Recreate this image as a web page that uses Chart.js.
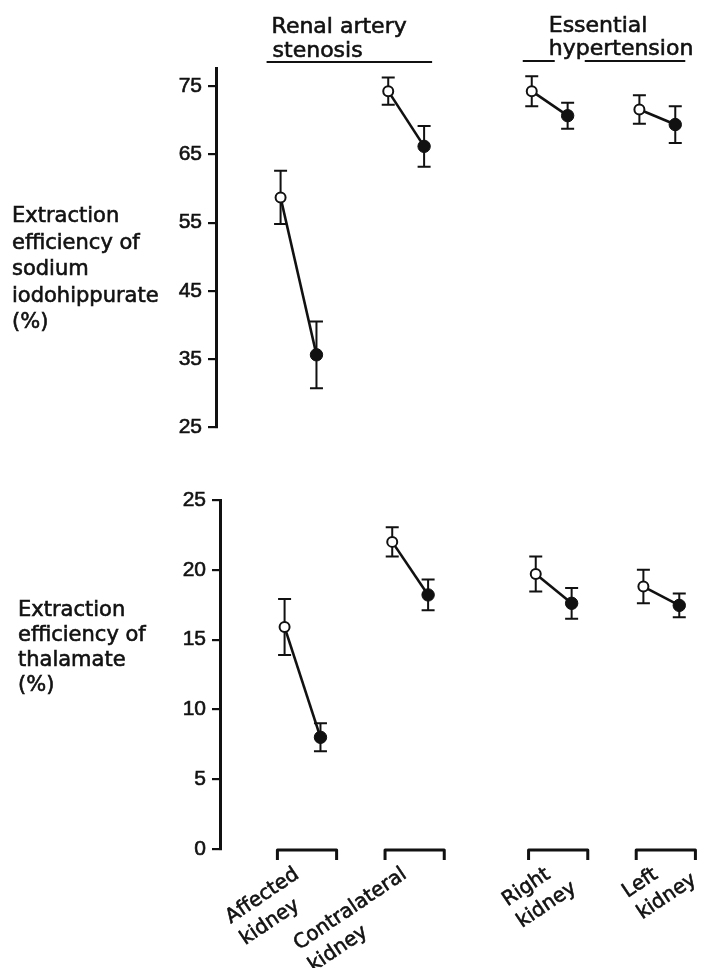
<!DOCTYPE html>
<html>
<head>
<meta charset="utf-8">
<script src="https://cdn.jsdelivr.net/npm/chart.js@4.4.1/dist/chart.umd.min.js"></script>
<style>
  body { margin: 0; background: #fff; width: 704px; height: 968px; overflow: hidden; position: relative; }
  canvas { position: absolute; }
  #chart1 { left: 0; top: 0; }
  #chart2 { left: 4px; top: 470px; }
</style>
</head>
<body>
<canvas id="chart1" width="704" height="470"></canvas>
<canvas id="chart2" width="704" height="498"></canvas>
<script>
//groups and where each pair sits on the x axis
const groups = ['Affected kidney', 'Contralateral kidney', 'Right kidney', 'Left kidney']
const xLabels = [['Affected', 'kidney'], ['Contralateral', 'kidney'], ['Right', 'kidney'], ['Left', 'kidney']]
const xOpen = [0, 3, 7, 10]
const xFilled = [1, 4, 8, 11]

//sodium iodohippurate (%)
const pahOpen = [58.7, 74.3, 74.3, 71.6]
const pahOpenErr = [3.9, 2.0, 2.2, 2.1]
const pahFilled = [35.6, 66.2, 70.7, 69.4]
const pahFilledErr = [4.9, 3.0, 1.9, 2.7]
const pahTicks = [25, 35, 45, 55, 65, 75]

//thalamate (%)
const thalOpen = [15.9, 22.0, 19.7, 18.8]
const thalOpenErr = [2.0, 1.05, 1.25, 1.2]
const thalFilled = [8.0, 18.2, 17.6, 17.45]
const thalFilledErr = [1.0, 1.1, 1.1, 0.85]
const thalTicks = [0, 5, 10, 15, 20, 25]

//texts
const pahTitle = ['Extraction', 'efficiency of', 'sodium', 'iodohippurate', '(%)']
const thalTitle = ['Extraction', 'efficiency of', 'thalamate', '(%)']
const renalHeader = ['Renal artery', 'stenosis']
const essentialHeader = ['Essential', 'hypertension']

const ink = '#111'
const textFont = '21px "DejaVu Sans"'

//slightly heavier text, like the printed original
drawText = function(ctx, t, x, y) {
    ctx.lineWidth = 0.6
    ctx.strokeText(t, x, y)
    ctx.fillText(t, x, y)
}

//build one line dataset per group (open point -> filled point)
makeDatasets = function(open, filled) {
    return groups.map((g, i) => ({
        label: g,
        data: [{x: xOpen[i], y: open[i]}, {x: xFilled[i], y: filled[i]}],
        borderColor: ink,
        borderWidth: 2.6,
        pointRadius: [5, 6.2],
        pointBackgroundColor: ['#fff', ink],
        pointBorderColor: ink,
        pointBorderWidth: [2, 1]
    }))
}

//error bars, drawn under the points
errorBars = function(open, openErr, filled, filledErr) {
    return {
        id: 'errorBars',
        beforeDatasetsDraw(chart) {
            const ctx = chart.ctx
            const xs = chart.scales.x, ys = chart.scales.y
            ctx.save()
            ctx.strokeStyle = ink
            ctx.lineWidth = 2
            const bar = (xv, v, e) => {
                const px = xs.getPixelForValue(xv)
                const top = ys.getPixelForValue(v + e)
                const bot = ys.getPixelForValue(v - e)
                ctx.beginPath()
                ctx.moveTo(px, top); ctx.lineTo(px, bot)
                ctx.moveTo(px - 6.5, top); ctx.lineTo(px + 6.5, top)
                ctx.moveTo(px - 6.5, bot); ctx.lineTo(px + 6.5, bot)
                ctx.stroke()
            }
            groups.forEach((g, i) => {
                bar(xOpen[i], open[i], openErr[i])
                bar(xFilled[i], filled[i], filledErr[i])
            })
            ctx.restore()
        }
    }
}

//y axis options
yAxis = function(min, max, ticks) {
    return {
        min: min,
        max: max,
        afterBuildTicks: s => { s.ticks = ticks.map(v => ({value: v})) },
        afterFit: s => { s.width = 216 },
        grid: {drawOnChartArea: false, drawTicks: true, tickLength: 8, color: ink, lineWidth: 2.2},
        border: {display: true, color: ink, width: 3},
        ticks: {color: ink, padding: 6, textStrokeColor: ink, textStrokeWidth: 0.6,
            font: {family: 'Liberation Sans', size: 21}}
    }
}

//top panel decorations: axis title and group headers
const topDecor = {
    id: 'topDecor',
    afterDraw(chart) {
        const ctx = chart.ctx
        const xs = chart.scales.x
        ctx.save()
        ctx.fillStyle = ink
        ctx.strokeStyle = ink
        ctx.font = textFont
        ctx.textAlign = 'left'
        pahTitle.forEach((t, i) => drawText(ctx, t, 12, 222 + i * 26.5))

        //renal artery stenosis
        const r0 = xs.getPixelForValue(xOpen[0]) - 14
        const r1 = xs.getPixelForValue(xFilled[1]) + 8
        ctx.font = '22px "DejaVu Sans"'
        drawText(ctx, renalHeader[0], r0 + 5, 33)
        drawText(ctx, renalHeader[1], r0 + 6, 57)
        ctx.lineWidth = 2.2
        ctx.beginPath()
        ctx.moveTo(r0, 62); ctx.lineTo(r1, 62)
        ctx.stroke()

        //essential hypertension (underline broken under the descenders)
        const e0 = xs.getPixelForValue(xOpen[2]) - 9
        const e1 = xs.getPixelForValue(xFilled[3]) + 10
        const tx = xs.getPixelForValue(xOpen[2]) + 17
        drawText(ctx, essentialHeader[0], tx, 32)
        drawText(ctx, essentialHeader[1], tx, 55)
        ctx.lineWidth = 2.2
        ctx.beginPath()
        ctx.moveTo(e0, 61); ctx.lineTo(tx + 6, 61)
        ctx.moveTo(tx + 36, 61); ctx.lineTo(e1, 61)
        ctx.stroke()
        ctx.restore()
    }
}

//bottom panel decorations: axis title, brackets and rotated group labels
const bottomDecor = {
    id: 'bottomDecor',
    afterDraw(chart) {
        const ctx = chart.ctx
        const xs = chart.scales.x, ys = chart.scales.y
        ctx.save()
        ctx.fillStyle = ink
        ctx.strokeStyle = ink
        ctx.font = textFont
        thalTitle.forEach((t, i) => drawText(ctx, t, 14, 146 + i * 25))

        const y0 = ys.getPixelForValue(0) + 1
        groups.forEach((g, i) => {
            const a = xs.getPixelForValue(xOpen[i] - 0.2)
            const b = xs.getPixelForValue(xFilled[i] + 0.45)
            ctx.lineWidth = 3
            ctx.lineJoin = 'round'
            ctx.beginPath()
            ctx.moveTo(a, y0 + 10); ctx.lineTo(a, y0); ctx.lineTo(b, y0); ctx.lineTo(b, y0 + 10)
            ctx.stroke()

            //label: first line ends near bracket centre, second line starts under it
            ctx.save()
            ctx.font = '20px "DejaVu Sans"'
            ctx.translate((a + b) / 2 - 7, y0 + 27)
            ctx.rotate(-34 * Math.PI / 180)
            const w = ctx.measureText(xLabels[i][0]).width
            ctx.textAlign = 'left'
            drawText(ctx, xLabels[i][0], -w, 0)
            drawText(ctx, xLabels[i][1], -w, 26)
            ctx.restore()
        })
        ctx.restore()
    }
}

const xAxis = {type: 'linear', display: false, min: -1.8, max: 11.6}

const commonOptions = {
    responsive: false,
    animation: false,
    plugins: {legend: {display: false}, tooltip: {enabled: false}}
}

//render top chart
const Chart1 = new Chart(document.getElementById('chart1'), {
    type: 'line',
    data: {datasets: makeDatasets(pahOpen, pahFilled)},
    options: Object.assign({}, commonOptions, {
        layout: {padding: {top: 68, bottom: 43, left: 0, right: 0}},
        scales: {x: xAxis, y: yAxis(25, 77.7, pahTicks)}
    }),
    plugins: [errorBars(pahOpen, pahOpenErr, pahFilled, pahFilledErr), topDecor]
})

//render bottom chart
const Chart2 = new Chart(document.getElementById('chart2'), {
    type: 'line',
    data: {datasets: makeDatasets(thalOpen, thalFilled)},
    options: Object.assign({}, commonOptions, {
        layout: {padding: {top: 30, bottom: 119, left: 0, right: 0}},
        scales: {x: xAxis, y: yAxis(0, 25, thalTicks)}
    }),
    plugins: [errorBars(thalOpen, thalOpenErr, thalFilled, thalFilledErr), bottomDecor]
})
</script>
</body>
</html>
